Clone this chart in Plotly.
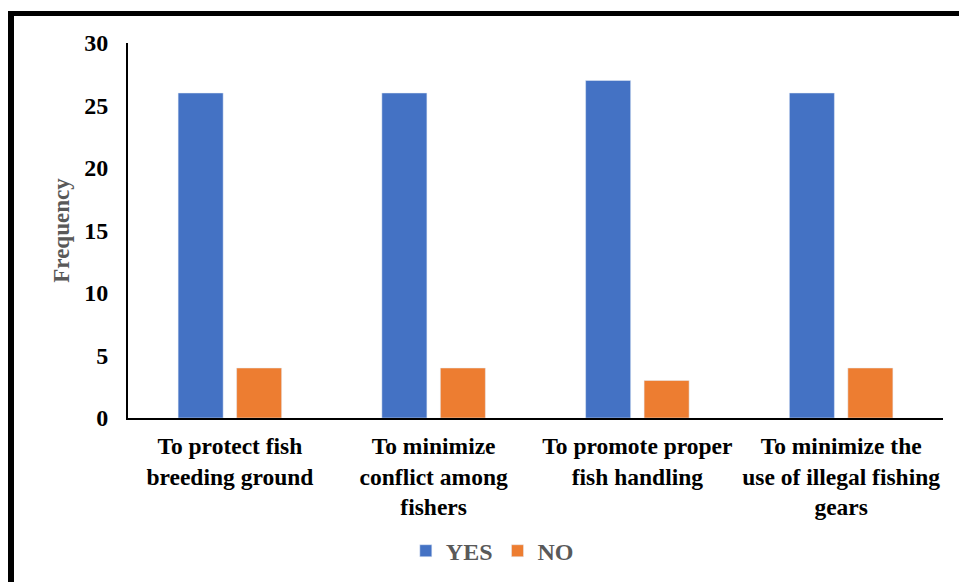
import plotly.graph_objects as go

categories = ["To protect fish<br>breeding ground",
              "To minimize<br>conflict among<br>fishers",
              "To promote proper<br>fish handling",
              "To minimize the<br>use of illegal fishing<br>gears"]
yes_vals = [26, 26, 27, 26]
no_vals = [4, 4, 3, 4]

FONT = "Liberation Serif"
fig = go.Figure()
fig.add_trace(go.Bar(name="<b>YES</b>", x=categories, y=yes_vals, marker_color="#4472C4"))
fig.add_trace(go.Bar(name="<b>NO</b>", x=categories, y=no_vals, marker_color="#ED7D31"))

fig.update_layout(
    width=959, height=582,
    margin=dict(l=128, r=16, t=43, b=164, autoexpand=False),
    plot_bgcolor="white", paper_bgcolor="white",
    barmode="group", bargap=0.426, bargroupgap=0.23,
    font=dict(family=FONT, size=24, color="black"),
    legend=dict(orientation="h", x=0.447, xanchor="center", y=-0.355, yanchor="middle",
                font=dict(family=FONT, size=24, color="#595959"), itemwidth=30,
                traceorder="normal"),
    xaxis=dict(showline=True, linecolor="black", linewidth=2, ticks="", ticklabelstandoff=6,
               automargin=False,
               tickfont=dict(family=FONT, size=23.5, color="black"), tickprefix="<b>", ticksuffix="</b>"),
    yaxis=dict(range=[0, 30], dtick=5, showline=True, linecolor="black", linewidth=2,
               showgrid=False, ticks="", zeroline=False, ticklabelstandoff=13, automargin=False,
               tickfont=dict(family=FONT, size=24, color="black"), tickprefix="<b>", ticksuffix="</b>",
               title=dict(text="<b>Frequency</b>", font=dict(family=FONT, size=23, color="#595959"), standoff=8)),
    shapes=[
        dict(type="line", xref="paper", yref="paper", x0=(8 - 128) / 815, x1=1.05,
             y0=(418 - 13.5) / 375, y1=(418 - 13.5) / 375, line=dict(color="black", width=5)),
        dict(type="line", xref="paper", yref="paper", x0=(11 - 128) / 815, x1=(11 - 128) / 815,
             y0=(418 - 11) / 375, y1=-0.5, line=dict(color="black", width=6)),
    ],
)
fig.write_html("out.html")
